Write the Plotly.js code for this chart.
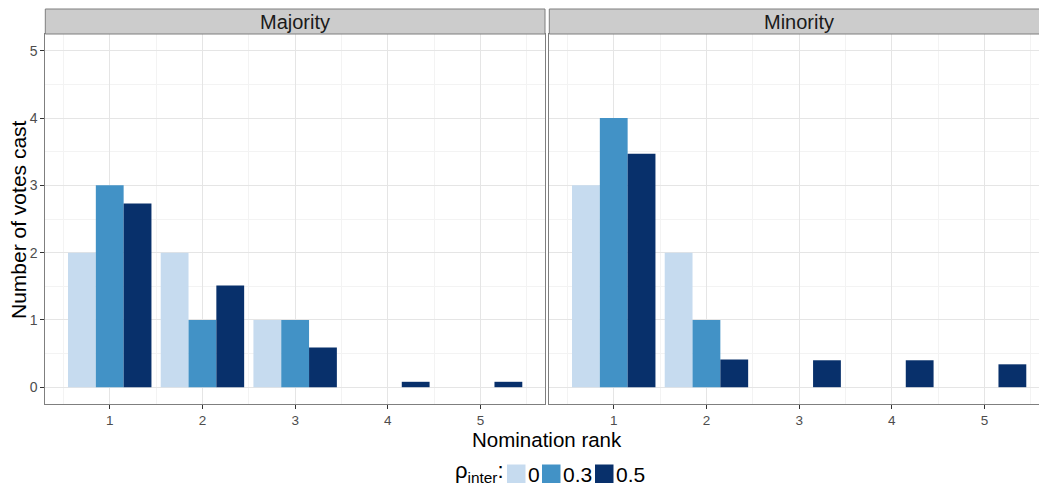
<!DOCTYPE html>
<html>
<head>
<meta charset="utf-8">
<script src="https://cdn.plot.ly/plotly-3.0.1.min.js"></script>
<style>
html, body { margin:0; padding:0; overflow:hidden; background:#fff; }
#chart { width:1050px; height:485px; }
</style>
</head>
<body>
<div id="chart"></div>
<script>
// ---- data ----
const ranks = [1, 2, 3, 4, 5];
const panels = ['Majority', 'Minority'];
const rhoLabels = ['0', '0.3', '0.5'];
const rhoColors = ['#c6dbef', '#4292c6', '#08306b'];
const majorityRho0  = [2, 2, 1, 0, 0];
const majorityRho03 = [3, 1, 1, 0, 0];
const majorityRho05 = [2.73, 1.51, 0.59, 0.08, 0.08];
const minorityRho0  = [3, 2, 0, 0, 0];
const minorityRho03 = [4, 1, 0, 0, 0];
const minorityRho05 = [3.47, 0.41, 0.40, 0.40, 0.34];
const yTicks = [0, 1, 2, 3, 4, 5];

const W = 1050, H = 485;
const FONT = '"Liberation Sans", Arial, sans-serif';
const px = v => v / W;
const py = v => 1 - v / H;

const panelSeries = [
  [majorityRho0, majorityRho03, majorityRho05],
  [minorityRho0, minorityRho03, minorityRho05]
];

const traces = [];
panelSeries.forEach((series, p) => {
  series.forEach((vals, i) => {
    traces.push({
      type: 'bar',
      x: ranks,
      y: vals,
      name: rhoLabels[i],
      xaxis: p === 0 ? 'x' : 'x2',
      yaxis: p === 0 ? 'y' : 'y2',
      marker: { color: rhoColors[i], line: { width: 0 } },
      showlegend: false,
      hoverinfo: 'x+y+name'
    });
  });
});

const panelX = [[45.3, 545], [549.3, 1049]];
const plotTop = 34, plotBottom = 404, stripTop = 9;

function xAxis(dom) {
  return {
    domain: [px(dom[0]), px(dom[1])],
    range: [0.305, 5.695],
    tickvals: ranks,
    ticktext: ranks.map(String),
    ticks: 'outside', ticklen: 4, tickcolor: '#333333', tickwidth: 1,
    tickfont: { family: FONT, size: 13.5, color: '#4d4d4d' },
    showgrid: true, gridcolor: '#e5e5e5', gridwidth: 1,
    minor: { tick0: 0.5, dtick: 1, showgrid: true, gridcolor: '#f3f3f3', gridwidth: 1, ticks: '' },
    showline: true, mirror: true, linecolor: '#7f7f7f', linewidth: 1,
    zeroline: false, fixedrange: true
  };
}
function yAxis(showLabels, anchor) {
  return {
    domain: [py(plotBottom), py(plotTop)],
    range: [-0.25, 5.25],
    anchor: anchor,
    tickvals: yTicks,
    ticktext: yTicks.map(String),
    showticklabels: showLabels,
    ticks: showLabels ? 'outside' : '', ticklen: 4, tickcolor: '#333333', tickwidth: 1,
    tickfont: { family: FONT, size: 14, color: '#4d4d4d' },
    showgrid: true, gridcolor: '#e5e5e5', gridwidth: 1,
    minor: { tick0: 0.5, dtick: 1, showgrid: true, gridcolor: '#f3f3f3', gridwidth: 1, ticks: '' },
    showline: true, mirror: true, linecolor: '#7f7f7f', linewidth: 1,
    zeroline: false, fixedrange: true
  };
}

const shapes = [];
const annotations = [];
panels.forEach((name, p) => {
  shapes.push({
    type: 'rect', xref: 'paper', yref: 'paper',
    x0: px(panelX[p][0]), x1: px(panelX[p][1]),
    y0: py(plotTop), y1: py(stripTop),
    fillcolor: '#cccccc', line: { color: '#7f7f7f', width: 1 }, layer: 'above'
  });
  annotations.push({
    xref: 'paper', yref: 'paper',
    x: px((panelX[p][0] + panelX[p][1]) / 2), y: py((stripTop + plotTop) / 2 + 0.5),
    text: name, showarrow: false, xanchor: 'center', yanchor: 'middle',
    font: { family: FONT, size: 20, color: '#1a1a1a' }
  });
});

// axis titles
annotations.push({
  xref: 'paper', yref: 'paper', x: px(19), y: py((plotTop + plotBottom) / 2 + 1),
  text: 'Number of votes cast', textangle: -90, showarrow: false,
  xanchor: 'center', yanchor: 'middle',
  font: { family: FONT, size: 21, color: '#000000' }
});
annotations.push({
  xref: 'paper', yref: 'paper', x: px(547), y: py(439),
  text: 'Nomination rank', showarrow: false,
  xanchor: 'center', yanchor: 'middle', borderpad: 0,
  font: { family: FONT, size: 20.5, color: '#000000' }
});

// legend (built from series names/colours)
annotations.push({
  xref: 'paper', yref: 'paper', x: px(505), y: py(472),
  text: 'ρ<sub>inter</sub>:', showarrow: false,
  xanchor: 'right', yanchor: 'middle', borderpad: 0,
  font: { family: FONT, size: 22, color: '#000000' }
});
const swStarts = [507, 542, 595];
rhoLabels.forEach((lab, i) => {
  shapes.push({
    type: 'rect', xref: 'paper', yref: 'paper',
    x0: px(swStarts[i]), x1: px(swStarts[i] + 18.5),
    y0: py(483), y1: py(464.5),
    fillcolor: rhoColors[i], line: { width: 0 }
  });
  annotations.push({
    xref: 'paper', yref: 'paper', x: px(swStarts[i] + 19.5), y: py(474.5),
    text: lab, showarrow: false, xanchor: 'left', yanchor: 'middle', borderpad: 0,
    font: { family: FONT, size: 21, color: '#000000' }
  });
});

const layout = {
  width: W, height: H,
  margin: { l: 0, r: 0, t: 0, b: 0 },
  paper_bgcolor: '#ffffff', plot_bgcolor: '#ffffff',
  barmode: 'group', bargap: 0.1, bargroupgap: 0,
  showlegend: false,
  font: { family: FONT },
  xaxis: xAxis(panelX[0]),
  xaxis2: Object.assign(xAxis(panelX[1]), { anchor: 'y2' }),
  yaxis: yAxis(true, 'x'),
  yaxis2: yAxis(false, 'x2'),
  shapes: shapes,
  annotations: annotations
};
layout.xaxis.anchor = 'y';

Plotly.newPlot('chart', traces, layout, { displayModeBar: false, staticPlot: true });
</script>
</body>
</html>
